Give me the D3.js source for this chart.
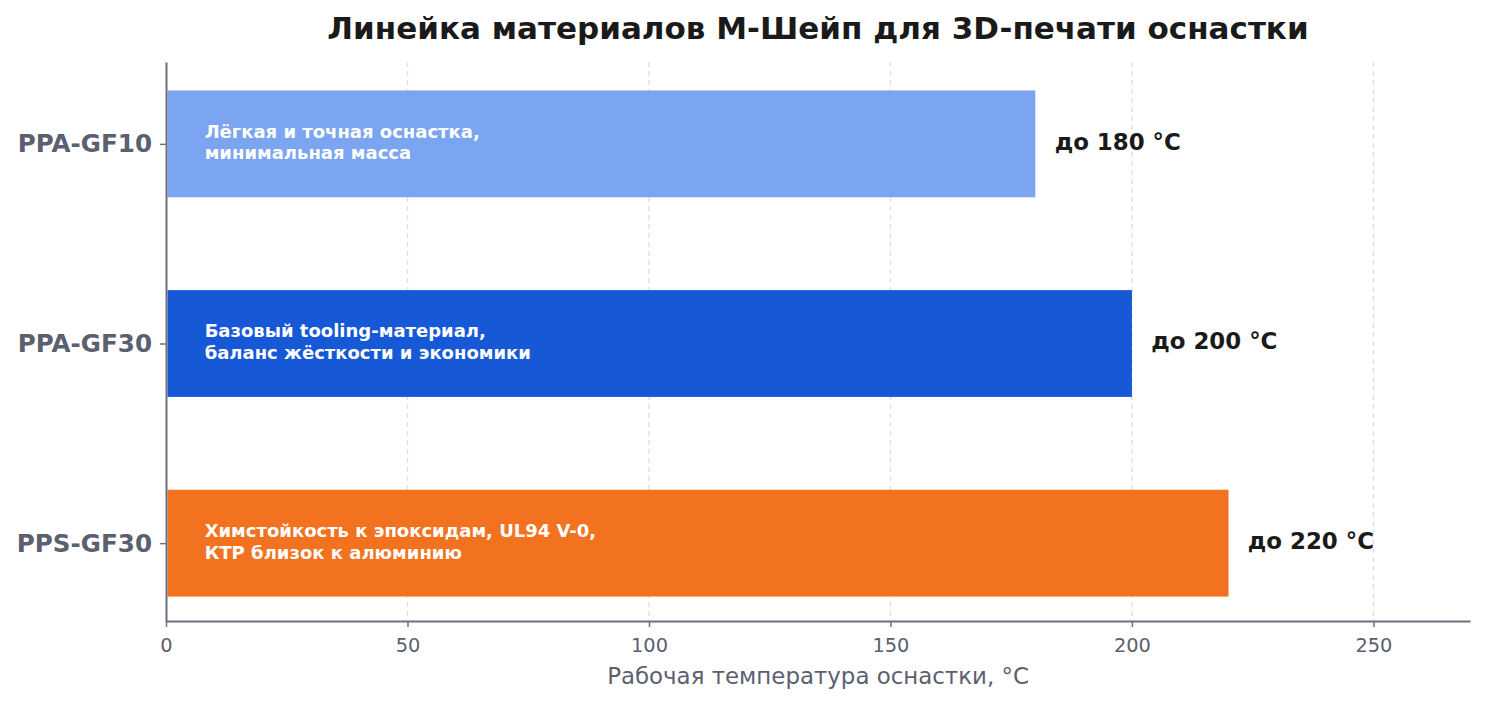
<!DOCTYPE html>
<html><head><meta charset="utf-8">
<script src="https://cdn.jsdelivr.net/npm/d3@7/dist/d3.min.js"></script>
<style>body{margin:0;background:#fff;} svg{display:block;font-family:"DejaVu Sans",sans-serif;}</style>
</head><body>
<svg id="c" width="1485" height="704"></svg>
<script>
const materials = ["PPA-GF10", "PPA-GF30", "PPS-GF30"];
const temps = [180, 200, 220];
const descriptions = [
  ["Лёгкая и точная оснастка,", "минимальная масса"],
  ["Базовый tooling-материал,", "баланс жёсткости и экономики"],
  ["Химстойкость к эпоксидам, UL94 V-0,", "КТР близок к алюминию"]
];
const valueLabels = ["до 180 °C", "до 200 °C", "до 220 °C"];
const barColors = ["#7BA5F0", "#1658D6", "#F2721F"];
const xTicks = [0, 50, 100, 150, 200, 250];
const title = "Линейка материалов М-Шейп для 3D-печати оснастки";
const xLabel = "Рабочая температура оснастки, °C";

const svg = d3.select("#c");
const L = 166, R = 1470, T = 62, B = 621;
const x = d3.scaleLinear().domain([0, 270]).range([L, R]);
const y = d3.scaleLinear().domain([-0.41, 2.39]).range([T, B]);
const barH = 0.535;
const axisCol = "#6e717f", labCol = "#5b6070";

// grid
svg.append("g").selectAll("line").data(xTicks.filter(d => d > 0)).join("line")
  .attr("x1", d => x(d)).attr("x2", d => x(d)).attr("y1", T).attr("y2", B)
  .attr("stroke", "#e0e0e0").attr("stroke-width", 1.4).attr("stroke-dasharray", "5,4");

// bars
svg.append("g").selectAll("rect").data(materials).join("rect")
  .attr("x", x(0) + 1.5).attr("y", (d, i) => y(i - barH / 2))
  .attr("width", (d, i) => x(temps[i]) - x(0) - 1.5)
  .attr("height", y(barH) - y(0))
  .attr("fill", (d, i) => barColors[i]);

// inner descriptions
materials.forEach((m, i) => {
  const t = svg.append("text").attr("x", x(8)).attr("y", y(i))
    .attr("fill", "#ffffff").attr("font-weight", "bold").attr("font-size", 18);
  descriptions[i].forEach((line, k) => {
    t.append("tspan").attr("x", x(8)).attr("y", y(i) + (k === 0 ? -6 : 15.5)).text(line);
  });
});

// value labels
svg.append("g").selectAll("text").data(materials).join("text")
  .attr("x", (d, i) => x(temps[i] + 4)).attr("y", (d, i) => y(i) + 6)
  .attr("fill", "#1a1a1a").attr("font-weight", "bold").attr("font-size", 22.9)
  .text((d, i) => valueLabels[i]);

// x axis
const xAxis = svg.append("g").attr("transform", `translate(0,${B})`)
  .call(d3.axisBottom(x).tickValues(xTicks).tickSize(6).tickPadding(11).tickSizeOuter(0));
xAxis.select(".domain").attr("stroke", axisCol).attr("stroke-width", 2);
xAxis.selectAll(".tick line").attr("stroke", axisCol).attr("stroke-width", 1.5);
xAxis.selectAll(".tick text").attr("fill", labCol).attr("font-size", 19.4).attr("font-family", "DejaVu Sans");

// y axis
const yAxis = svg.append("g").attr("transform", `translate(${L},0)`)
  .call(d3.axisLeft(y).tickValues([0, 1, 2]).tickFormat(i => materials[i]).tickSize(6).tickPadding(8).tickSizeOuter(0));
yAxis.select(".domain").attr("stroke", axisCol).attr("stroke-width", 2);
yAxis.selectAll(".tick line").attr("stroke", axisCol).attr("stroke-width", 1.5);
yAxis.selectAll(".tick text").attr("fill", labCol).attr("font-size", 24.6).attr("font-weight", "bold").attr("font-family", "DejaVu Sans");

// title
svg.append("text").attr("x", (L + R) / 2).attr("y", 39).attr("text-anchor", "middle")
  .attr("font-size", 31).attr("font-weight", "bold").attr("fill", "#1a1a1a").text(title);

// x label
svg.append("text").attr("x", (L + R) / 2).attr("y", 684).attr("text-anchor", "middle")
  .attr("font-size", 22.9).attr("fill", labCol).text(xLabel);
</script>
</body></html>
